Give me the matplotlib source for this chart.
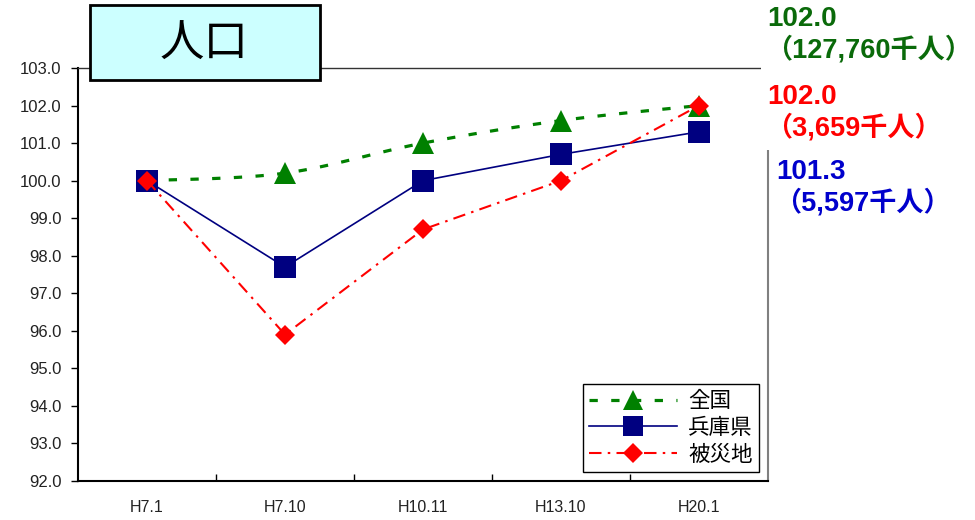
import numpy as np
import matplotlib
matplotlib.use('Agg')
import matplotlib.pyplot as plt
from matplotlib.lines import Line2D
from matplotlib.patches import Rectangle

plt.rcParams['font.family'] = ['Liberation Sans', 'Noto Sans CJK JP', 'DejaVu Sans']

# index (H7.1 = 100)
periods = ['H7.1', 'H7.10', 'H10.11', 'H13.10', 'H20.1']
zenkoku = [100.0, 100.2, 101.0, 101.6, 102.0]
hyogo = [100.0, 97.7, 100.0, 100.7, 101.3]
hisaichi = [100.0, 95.9, 98.7, 100.0, 102.0]
series_names = ['全国', '兵庫県', '被災地']
latest_pop = ['127,760', '5,597', '3,659']  # 千人


def smooth(xs, ys, n=30):
    # bezier smoothing like a spreadsheet "smoothed line"
    p = np.column_stack([xs, ys]).astype(float)
    pts = np.vstack([p[0], p, p[-1]])
    out = []
    for i in range(1, len(pts) - 2):
        p0, p1, p2, p3 = pts[i - 1], pts[i], pts[i + 1], pts[i + 2]
        b1 = p1 + (p2 - p0) / 6
        b2 = p2 - (p3 - p1) / 6
        t = np.linspace(0, 1, n)[:, None]
        seg = ((1 - t) ** 3) * p1 + 3 * ((1 - t) ** 2) * t * b1 + 3 * (1 - t) * t ** 2 * b2 + t ** 3 * p2
        out.append(seg if i == 1 else seg[1:])
    out = np.vstack(out)
    return out[:, 0], out[:, 1]


W, H = 975, 520
fig = plt.figure(figsize=(W / 100, H / 100), dpi=100)
ax = fig.add_axes([78 / W, 1 - 481 / H, 690 / W, 413 / H])

x = np.arange(len(periods))

green = '#008000'
navy = '#000080'
red = '#ff0000'

gs = dict(color=green, lw=2.3, dashes=(2.6, 4.2))
bs = dict(color=navy, lw=1.2, linestyle='-')
rs = dict(color=red, lw=1.5, dashes=(6, 3, 1.2, 3))

sx, sy = smooth(x, zenkoku)
ax.plot(sx, sy, zorder=3, **gs)
ax.plot(x, zenkoku, linestyle='none', marker='^', ms=15.5, mfc=green, mec=green, mew=0, zorder=4)

ax.plot(x, hyogo, zorder=5, **bs)
ax.plot(x, hyogo, linestyle='none', marker='s', ms=15.5, mfc=navy, mec=navy, mew=0, zorder=6)

ax.plot(x, hisaichi, zorder=7, **rs)
ax.plot(x, hisaichi, linestyle='none', marker='D', ms=10.5, mfc=red, mec=red, mew=0, zorder=8)

ax.set_xlim(-0.5, len(periods) - 0.5)
ax.set_ylim(92, 103)
yt = np.arange(92, 103.01, 1.0)
ax.set_yticks(yt)
ax.set_yticklabels(['{:.1f}'.format(v) for v in yt], fontsize=12, color='#222222')
ax.tick_params(axis='y', direction='out', length=5, width=1, pad=7)

ax.set_xticks(x)
ax.set_xticklabels(periods, fontsize=11.5, color='#222222')
ax.set_xticks(x[:-1] + 0.5, minor=True)
ax.tick_params(axis='x', which='major', length=0, pad=14)
ax.tick_params(axis='x', which='minor', direction='in', length=5, width=1)

ax.spines['left'].set_linewidth(1.5)
ax.spines['bottom'].set_linewidth(1.5)
ax.spines['top'].set_linewidth(1)
ax.spines['top'].set_color('#333333')
ax.spines['right'].set_linewidth(1.5)
ax.spines['right'].set_color('#808080')

handles = [
    Line2D([], [], marker='^', ms=15, mfc=green, mec=green, mew=0, **gs),
    Line2D([], [], marker='s', ms=15, mfc=navy, mec=navy, mew=0, **bs),
    Line2D([], [], marker='D', ms=10, mfc=red, mec=red, mew=0, **rs),
]
leg = ax.legend(handles, series_names, loc='lower right',
                bbox_to_anchor=((759 - 78) / 690, (481 - 472) / 413),
                borderaxespad=0, fancybox=False, framealpha=1, edgecolor='black',
                prop={'family': ['Noto Sans CJK JP'], 'size': 15.5},
                handlelength=4.1, labelspacing=0.22, handletextpad=0.5,
                borderpad=0.3)
leg.get_frame().set_linewidth(1)
leg.set_zorder(10)

# title box
fig.add_artist(Rectangle((90 / W, 1 - 80 / H), 230 / W, 75 / H, transform=fig.transFigure,
                         facecolor='#ccffff', edgecolor='black', lw=2, zorder=5))
fig.text(204 / W, 1 - 44 / H, '人口', ha='center', va='center', fontsize=32,
         family=['Noto Sans CJK JP'], color='black', zorder=6)

# latest values at the right
fig.add_artist(Rectangle((761 / W, 1 - 150 / H), 214 / W, 84 / H, transform=fig.transFigure,
                         facecolor='white', edgecolor='none', zorder=5))
labels = [
    (zenkoku[-1], latest_pop[0], '#0a6a0a', 767, 19),
    (hisaichi[-1], latest_pop[2], red, 767, 97),
    (hyogo[-1], latest_pop[1], '#0000cc', 776, 172),
]
for val, pop, col, lx, ly in labels:
    fig.text(lx / W, 1 - ly / H, '{:.1f}'.format(val), ha='left', va='center', fontsize=20,
             fontweight='bold', color=col, zorder=7)
    fig.text((lx - 2) / W, 1 - (ly + 31) / H, '（{}千人）'.format(pop), ha='left', va='center',
             fontsize=19.5, fontweight='bold', color=col, zorder=7,
             family=['Liberation Sans', 'Noto Sans CJK JP'])

fig.savefig('out.png', dpi=100)
